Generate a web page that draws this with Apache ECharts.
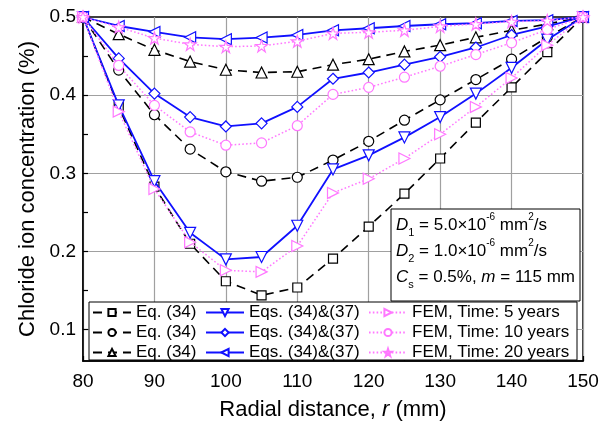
<!DOCTYPE html>
<html><head><meta charset="utf-8">
<script src="https://cdn.jsdelivr.net/npm/echarts@6/dist/echarts.min.js"></script>
<style>html,body{margin:0;padding:0;background:#fff}#c{width:616px;height:426px}</style>
</head><body><div id="c"></div>
<script>
// ---- data ----
const radius = [80, 85, 90, 95, 100, 105, 110, 115, 120, 125, 130, 135, 140, 145, 150];
const eq34_5y  = [0.5, 0.385, 0.283, 0.21, 0.162, 0.144, 0.154, 0.191, 0.232, 0.274, 0.319, 0.365, 0.41, 0.455, 0.5];
const eq34_10y = [0.5, 0.432, 0.375, 0.331, 0.302, 0.29, 0.295, 0.317, 0.341, 0.368, 0.394, 0.42, 0.446, 0.474, 0.5];
const eq34_20y = [0.5, 0.478, 0.458, 0.443, 0.4325, 0.429, 0.430, 0.439, 0.446, 0.456, 0.464, 0.474, 0.483, 0.491, 0.5];
const eqs_5y   = [0.5, 0.387, 0.29, 0.224, 0.19, 0.193, 0.233, 0.305, 0.323, 0.346, 0.372, 0.402, 0.435, 0.471, 0.5];
const eqs_10y  = [0.5, 0.447, 0.402, 0.372, 0.36, 0.364, 0.385, 0.421, 0.429, 0.439, 0.449, 0.461, 0.477, 0.488, 0.5];
const eqs_20y  = [0.5, 0.4885, 0.481, 0.474, 0.4716, 0.4737, 0.477, 0.483, 0.4856, 0.4885, 0.4907, 0.492, 0.495, 0.496, 0.5];
const fem_5y   = [0.5, 0.379, 0.28, 0.212, 0.176, 0.174, 0.207, 0.275, 0.293, 0.319, 0.35, 0.385, 0.422, 0.464, 0.5];
const fem_10y  = [0.5, 0.438, 0.387, 0.353, 0.336, 0.339, 0.361, 0.401, 0.41, 0.423, 0.437, 0.452, 0.467, 0.484, 0.5];
const fem_20y  = [0.5, 0.487, 0.473, 0.465, 0.462, 0.463, 0.469, 0.479, 0.4805, 0.483, 0.488, 0.491, 0.494, 0.4953, 0.5];

const yLabelValues = [0.1, 0.2, 0.3, 0.4, 0.5];
const yTickValues = [0.1, 0.15, 0.2, 0.25, 0.3, 0.35, 0.4, 0.45, 0.5];
const yGridValues = [0.1, 0.2, 0.3, 0.4];

const legendNames = {
  eq: 'Eq. (34)', eqs: 'Eqs. (34)&(37)',
  fem5: 'FEM, Time: 5 years', fem10: 'FEM, Time: 10 years', fem20: 'FEM, Time: 20 years'
};

// ---- styling ----
const FONT = '"Liberation Sans", Arial, Helvetica, sans-serif';
const BLACK = '#000000', BLUE = '#1010ff', PINK = '#ff78ff';
const STAR = 'path://M50,2 L61.23,36.55 L97.55,36.55 L68.16,57.9 L79.39,92.45 L50,71.1 L20.61,92.45 L31.84,57.9 L2.45,36.55 L38.77,36.55 Z';

function pts(vals) { return radius.map((r, i) => [r, vals[i]]); }
function mk(name, vals, color, symbol, rotate, size, lineType, width, z) {
  return {
    name, type: 'line', data: pts(vals), z,
    symbol, symbolRotate: rotate, symbolSize: size,
    lineStyle: { color, type: lineType, width },
    itemStyle: { color: '#ffffff', borderColor: color, borderWidth: 1.2 },
    emphasis: { disabled: true }, animation: false
  };
}
const DASH = [9, 6], DOT = [1.6, 2.2];
const series = [
  mk('Eq. (34)#5', eq34_5y, BLACK, 'rect', 0, 9, DASH, 1.6, 2),
  mk('Eq. (34)#10', eq34_10y, BLACK, 'circle', 0, 10, DASH, 1.6, 2),
  mk('Eq. (34)#20', eq34_20y, BLACK, 'triangle', 0, 11, DASH, 1.6, 2),
  mk('Eqs. (34)&(37)#5', eqs_5y, BLUE, 'triangle', 180, 11, 'solid', 1.8, 3),
  mk('Eqs. (34)&(37)#10', eqs_10y, BLUE, 'diamond', 0, 11, 'solid', 1.8, 3),
  mk('Eqs. (34)&(37)#20', eqs_20y, BLUE, 'triangle', 90, 11, 'solid', 1.8, 3),
  mk('FEM#5', fem_5y, PINK, 'triangle', -90, 11, DOT, 1.5, 4),
  mk('FEM#10', fem_10y, PINK, 'circle', 0, 10, DOT, 1.5, 4),
  mk('FEM#20', fem_20y, PINK, STAR, 0, 12, DOT, 1.5, 4)
];

function legendText(name) {
  if (name.startsWith('FEM')) {
    const k = name.split('#')[1];
    return legendNames['fem' + k];
  }
  return name.split('#')[0];
}
function mkLegend(left, names) {
  return {
    orient: 'vertical', left, top: 304, padding: 0, z: 20,
    itemWidth: 38, itemHeight: 9, itemGap: 3,
    selectedMode: false, data: names,
    formatter: legendText,
    textStyle: { fontSize: 17, fontFamily: FONT, color: '#000', lineHeight: 17 }
  };
}

const chart = echarts.init(document.getElementById('c'), null, { renderer: 'canvas' });
chart.setOption({
  animation: false,
  backgroundColor: '#ffffff',
  grid: { left: 83, right: 33, top: 17, bottom: 65, show: true, borderColor: '#000', borderWidth: 1.5, backgroundColor: 'transparent', containLabel: false, outerBoundsMode: 'none' },
  xAxis: {
    type: 'value', min: 80, max: 150, interval: 10,
    name: 'Radial distance, {i|r} (mm)', nameLocation: 'middle', nameGap: 38,
    nameTextStyle: { fontSize: 22, fontFamily: FONT, color: '#000', rich: { i: { fontSize: 22, fontStyle: 'italic', fontFamily: FONT, color: '#000' } } },
    axisLine: { lineStyle: { color: '#000', width: 1.5 } },
    axisTick: { inside: true, length: 5, lineStyle: { color: '#000', width: 1.2 } },
    minorTick: { show: true, splitNumber: 2, length: 3, lineStyle: { color: '#000', width: 1.2 } },
    splitLine: { show: true, lineStyle: { color: '#a0a0a0', width: 1.2 } },
    axisLabel: { fontSize: 19, fontFamily: FONT, color: '#000', margin: 11, showMinLabel: true, showMaxLabel: true }
  },
  yAxis: [{
    type: 'value', min: 0.06, max: 0.5,
    name: 'Chloride ion concentration (%)', nameLocation: 'middle', nameGap: 44, nameRotate: 90,
    nameTextStyle: { fontSize: 22, fontFamily: FONT, color: '#000' },
    axisLine: { show: true, lineStyle: { color: '#000', width: 1.5 } },
    axisTick: { inside: true, length: 5, customValues: yTickValues, lineStyle: { color: '#000', width: 1.2 } },
    splitLine: { show: false },
    axisLabel: { fontSize: 19, fontFamily: FONT, color: '#000', margin: 7, customValues: yLabelValues, formatter: v => v.toFixed(1) }
  }, {
    type: 'value', min: 0.06, max: 0.5, position: 'right',
    axisLine: { show: false },
    axisTick: { show: false, customValues: yGridValues },
    axisLabel: { show: false },
    splitLine: { show: true, lineStyle: { color: '#a0a0a0', width: 1.2 } }
  }],
  legend: [
    mkLegend(92, ['Eq. (34)#5', 'Eq. (34)#10', 'Eq. (34)#20']),
    mkLegend(205, ['Eqs. (34)&(37)#5', 'Eqs. (34)&(37)#10', 'Eqs. (34)&(37)#20']),
    mkLegend(368, ['FEM#5', 'FEM#10', 'FEM#20'])
  ],
  graphic: [
    { type: 'rect', z: 10, shape: { x: 89, y: 302, width: 488, height: 58 }, style: { fill: '#fff', stroke: '#000', lineWidth: 1 } },
    { type: 'rect', z: 10, shape: { x: 391, y: 209, width: 189, height: 92 }, style: { fill: '#fff', stroke: '#000', lineWidth: 1 } },
    { type: 'text', z: 11, x: 396, y: 212, style: {
        text: '{i|D}{sb|1}{n| = 5.0×10}{sp|-6}{n| mm}{sp|2}{n|/s}\n{i|D}{sb|2}{n| = 1.0×10}{sp|-6}{n| mm}{sp|2}{n|/s}\n{i|C}{sb|s}{n| = 0.5%, }{i|m}{n| = 115 mm}',
        fill: '#000', font: '17px ' + FONT,
        rich: {
          n: { fontSize: 17, lineHeight: 26, fontFamily: FONT, color: '#000' },
          i: { fontSize: 17, lineHeight: 26, fontFamily: FONT, fontStyle: 'italic', color: '#000' },
          sp: { fontSize: 10, lineHeight: 14, fontFamily: FONT, verticalAlign: 'top', color: '#000' },
          sb: { fontSize: 11, lineHeight: 12, fontFamily: FONT, verticalAlign: 'bottom', color: '#000' }
        }
      } }
  ],
  series
});
</script></body></html>
